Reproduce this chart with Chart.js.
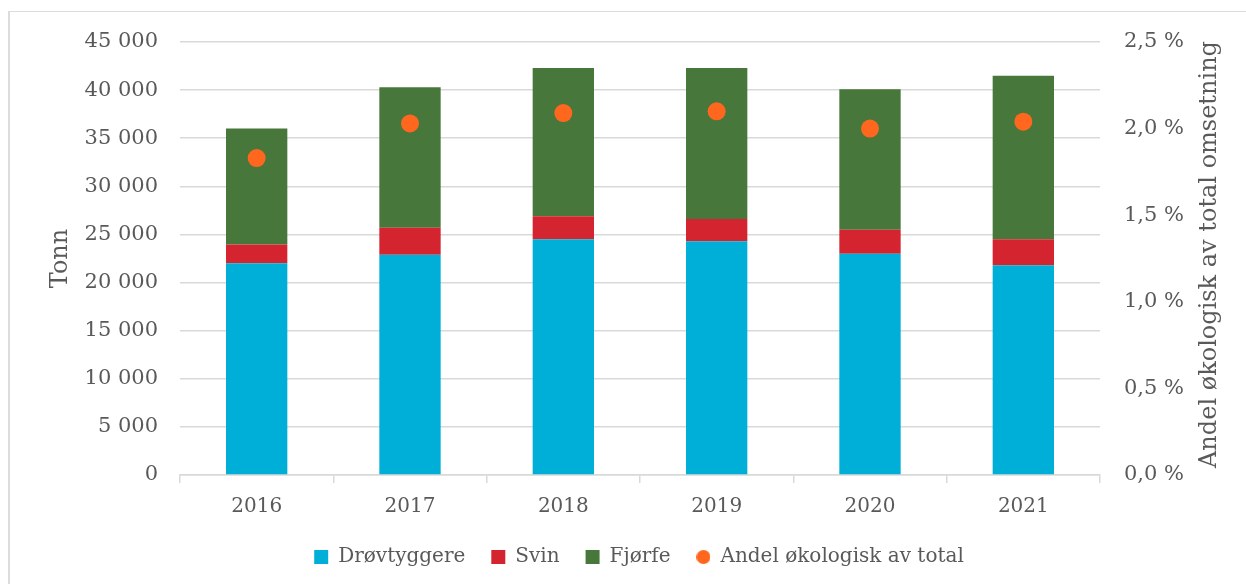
<!DOCTYPE html>
<html>
<head>
<meta charset="utf-8">
<script src="https://cdn.jsdelivr.net/npm/chart.js@4.4.1/dist/chart.umd.min.js"></script>
<style>
  html, body { margin: 0; padding: 0; background: #fff; }
  #wrap { position: relative; width: 1246px; height: 584px; }
  #frame {
    position: absolute; left: 8px; top: 11px; right: -10px; bottom: -10px;
    border-left: 2px solid #dcdcdc; border-top: 1px solid #dcdcdc;
    pointer-events: none;
  }
</style>
</head>
<body>
<div id="wrap">
  <canvas id="chart" width="1246" height="584"></canvas>
  <div id="frame"></div>
</div>
<script>
// Data
const years = ["2016", "2017", "2018", "2019", "2020", "2021"];
const drovtyggere = [22000, 22900, 24500, 24300, 23000, 21800];
const svin = [1950, 2800, 2400, 2300, 2500, 2700];
const fjorfe = [12050, 14600, 15400, 15700, 14600, 17000];
const andelOkologisk = [1.83, 2.03, 2.09, 2.10, 2.00, 2.04];

const FONT = "Georgia, 'DejaVu Serif', serif";
const TEXT = "#595959";
const GRID = "#d9d9d9";
const ORANGE = "#ff671f";
const RIGHT_TITLE = "Andel økologisk av total omsetning";

const fmtTonn = (v) => String(v).replace(/\B(?=(\d{3})+(?!\d))/g, " ");
const fmtPct = (v) => Number(v).toFixed(1).replace(".", ",") + " %";

// small round marker for the legend, same size as the squares
const legendDot = document.createElement("canvas");
legendDot.width = 14;
legendDot.height = 14;
(() => {
  const c = legendDot.getContext("2d");
  c.fillStyle = ORANGE;
  c.beginPath();
  c.arc(7, 7, 7, 0, Math.PI * 2);
  c.fill();
})();

// right axis title reads bottom-to-top like the left one
const rightTitle = {
  id: "rightTitle",
  afterDraw(chart) {
    const { ctx, chartArea } = chart;
    ctx.save();
    ctx.translate(1210, (chartArea.top + chartArea.bottom) / 2 - 4);
    ctx.rotate(-Math.PI / 2);
    ctx.fillStyle = TEXT;
    ctx.font = "24px " + FONT;
    ctx.textAlign = "center";
    ctx.textBaseline = "middle";
    ctx.fillText(RIGHT_TITLE, 0, 0);
    ctx.restore();
  },
};

const ctx = document.getElementById("chart").getContext("2d");

const barDefaults = {
  yAxisID: "y",
  stack: "a",
  barPercentage: 0.4,
  categoryPercentage: 1,
  order: 1,
};

new Chart(ctx, {
  type: "bar",
  data: {
    labels: years,
    datasets: [
      { ...barDefaults, label: "Drøvtyggere", data: drovtyggere, backgroundColor: "#00afd7" },
      { ...barDefaults, label: "Svin", data: svin, backgroundColor: "#d3242f" },
      { ...barDefaults, label: "Fjørfe", data: fjorfe, backgroundColor: "#48773b" },
      {
        type: "line",
        label: "Andel økologisk av total",
        data: andelOkologisk,
        yAxisID: "y1",
        showLine: false,
        pointRadius: 9,
        pointHoverRadius: 9,
        pointBackgroundColor: ORANGE,
        pointBorderWidth: 0,
        backgroundColor: ORANGE,
        borderColor: ORANGE,
        order: 0,
      },
    ],
  },
  plugins: [rightTitle],
  options: {
    responsive: false,
    animation: false,
    layout: {
      padding: { left: 46, right: 14, top: 42, bottom: 7 },
    },
    plugins: {
      tooltip: { enabled: false },
      legend: {
        position: "bottom",
        labels: {
          color: TEXT,
          font: { family: FONT, size: 20 },
          usePointStyle: true,
          boxWidth: 14,
          boxHeight: 14,
          padding: 26,
          generateLabels: (chart) =>
            chart.data.datasets.map((ds, i) => ({
              text: ds.label,
              fillStyle: ds.backgroundColor,
              strokeStyle: ds.backgroundColor,
              lineWidth: 0,
              pointStyle: ds.type === "line" ? legendDot : "rect",
              fontColor: TEXT,
              datasetIndex: i,
              hidden: false,
            })),
        },
      },
    },
    scales: {
      x: {
        stacked: true,
        grid: {
          display: true,
          drawOnChartArea: false,
          offset: true,
          color: GRID,
          lineWidth: 1.5,
          tickLength: 8,
        },
        border: { display: true, color: GRID, width: 1.5 },
        ticks: {
          color: TEXT,
          font: { family: FONT, size: 20 },
          padding: 12,
        },
        afterFit: (scale) => {
          scale.height = 46;
        },
      },
      y: {
        stacked: true,
        position: "left",
        min: 0,
        max: 45000,
        ticks: {
          stepSize: 5000,
          color: TEXT,
          font: { family: FONT, size: 21 },
          padding: 22,
          callback: (v) => fmtTonn(v),
        },
        grid: { color: GRID, lineWidth: 1.5, drawTicks: false },
        border: { display: false },
        title: {
          display: true,
          text: "Tonn",
          color: TEXT,
          font: { family: FONT, size: 24 },
          padding: 0,
        },
        afterFit: (scale) => {
          scale.width = 134;
        },
      },
      y1: {
        position: "right",
        min: 0,
        max: 2.5,
        ticks: {
          stepSize: 0.5,
          color: TEXT,
          font: { family: FONT, size: 21 },
          padding: 24,
          callback: (v) => fmtPct(v),
        },
        grid: { display: false, drawTicks: false },
        border: { display: false },
        afterFit: (scale) => {
          scale.width = 132;
        },
      },
    },
  },
});
</script>
</body>
</html>
